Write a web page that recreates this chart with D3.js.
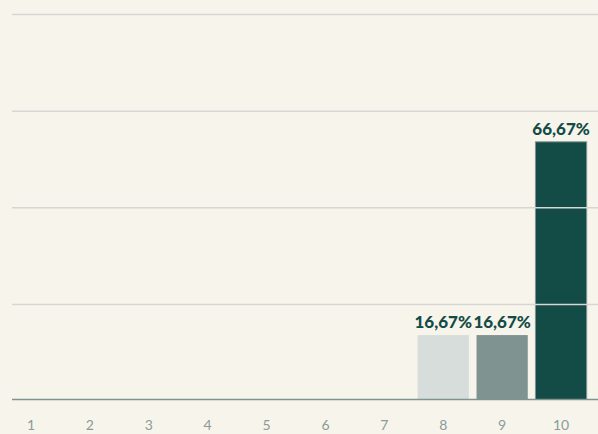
<!DOCTYPE html>
<html><head><meta charset="utf-8">
<script src="https://cdn.jsdelivr.net/npm/d3@7"></script>
<style>html,body{margin:0;padding:0;background:#f7f4ec;}svg{display:block;}</style>
</head><body><svg id="c" width="598" height="434"></svg>
<script>
const categories = ["1","2","3","4","5","6","7","8","9","10"];
const values = [0,0,0,0,0,0,0,16.67,16.67,66.67];
const labels = ["","","","","","","","16,67%","16,67%","66,67%"];
const barColors = ["#d7dddb","#d7dddb","#d7dddb","#d7dddb","#d7dddb","#d7dddb","#d7dddb","#d7dddb","#7f9391","#134b46"];
const gridTicks = [25,50,75,100];

const svg = d3.select("#c");
svg.append("rect").attr("width",598).attr("height",434).attr("fill","#f7f4ec");
const x = d3.scaleBand().domain(categories).range([1.5,590.5]).paddingInner(0.13).paddingOuter(0.065);
const y = d3.scaleLinear().domain([0,100]).range([399.5,13]);

const data = categories.map((c,i)=>({c, v:values[i], l:labels[i], col:barColors[i]}));
const shown = data.filter(d=>d.v>0);

svg.selectAll("rect.bar").data(shown).enter().append("rect")
  .attr("class","bar")
  .attr("x",d=>x(d.c)).attr("width",x.bandwidth())
  .attr("y",d=>y(d.v)).attr("height",d=>y(0)-y(d.v))
  .attr("fill",d=>d.col)
  .attr("stroke",d=>d.c==="10"?"#7f9391":"none").attr("stroke-width",1);

svg.append("g").selectAll("line").data(gridTicks).enter().append("line")
  .attr("x1",12).attr("x2",598).attr("y1",d=>y(d)+1.5).attr("y2",d=>y(d)+1.5)
  .attr("stroke","#d6d6d2").attr("stroke-width",1.5);

svg.append("line").attr("x1",12).attr("x2",598).attr("y1",y(0)).attr("y2",y(0))
  .attr("stroke","#7f9391").attr("stroke-width",1.5);

svg.selectAll("text.lab").data(shown).enter().append("text")
  .attr("class","lab")
  .attr("x",d=>x(d.c)+x.bandwidth()/2).attr("y",d=>y(d.v)-7)
  .attr("text-anchor","middle").attr("font-family","Lato, sans-serif")
  .attr("font-weight","900").attr("font-size",17).attr("fill","#134b46")
  .text(d=>d.l);

const axis = d3.axisBottom(x).tickSize(0).tickPadding(0);
const g = svg.append("g").attr("transform","translate(0,419)").call(axis);
g.select(".domain").remove();
g.selectAll("text").attr("font-family","Lato, sans-serif").attr("font-size",14)
  .attr("fill","#8a9b99").attr("dy","0.8em").attr("y",0);
</script></body></html>
